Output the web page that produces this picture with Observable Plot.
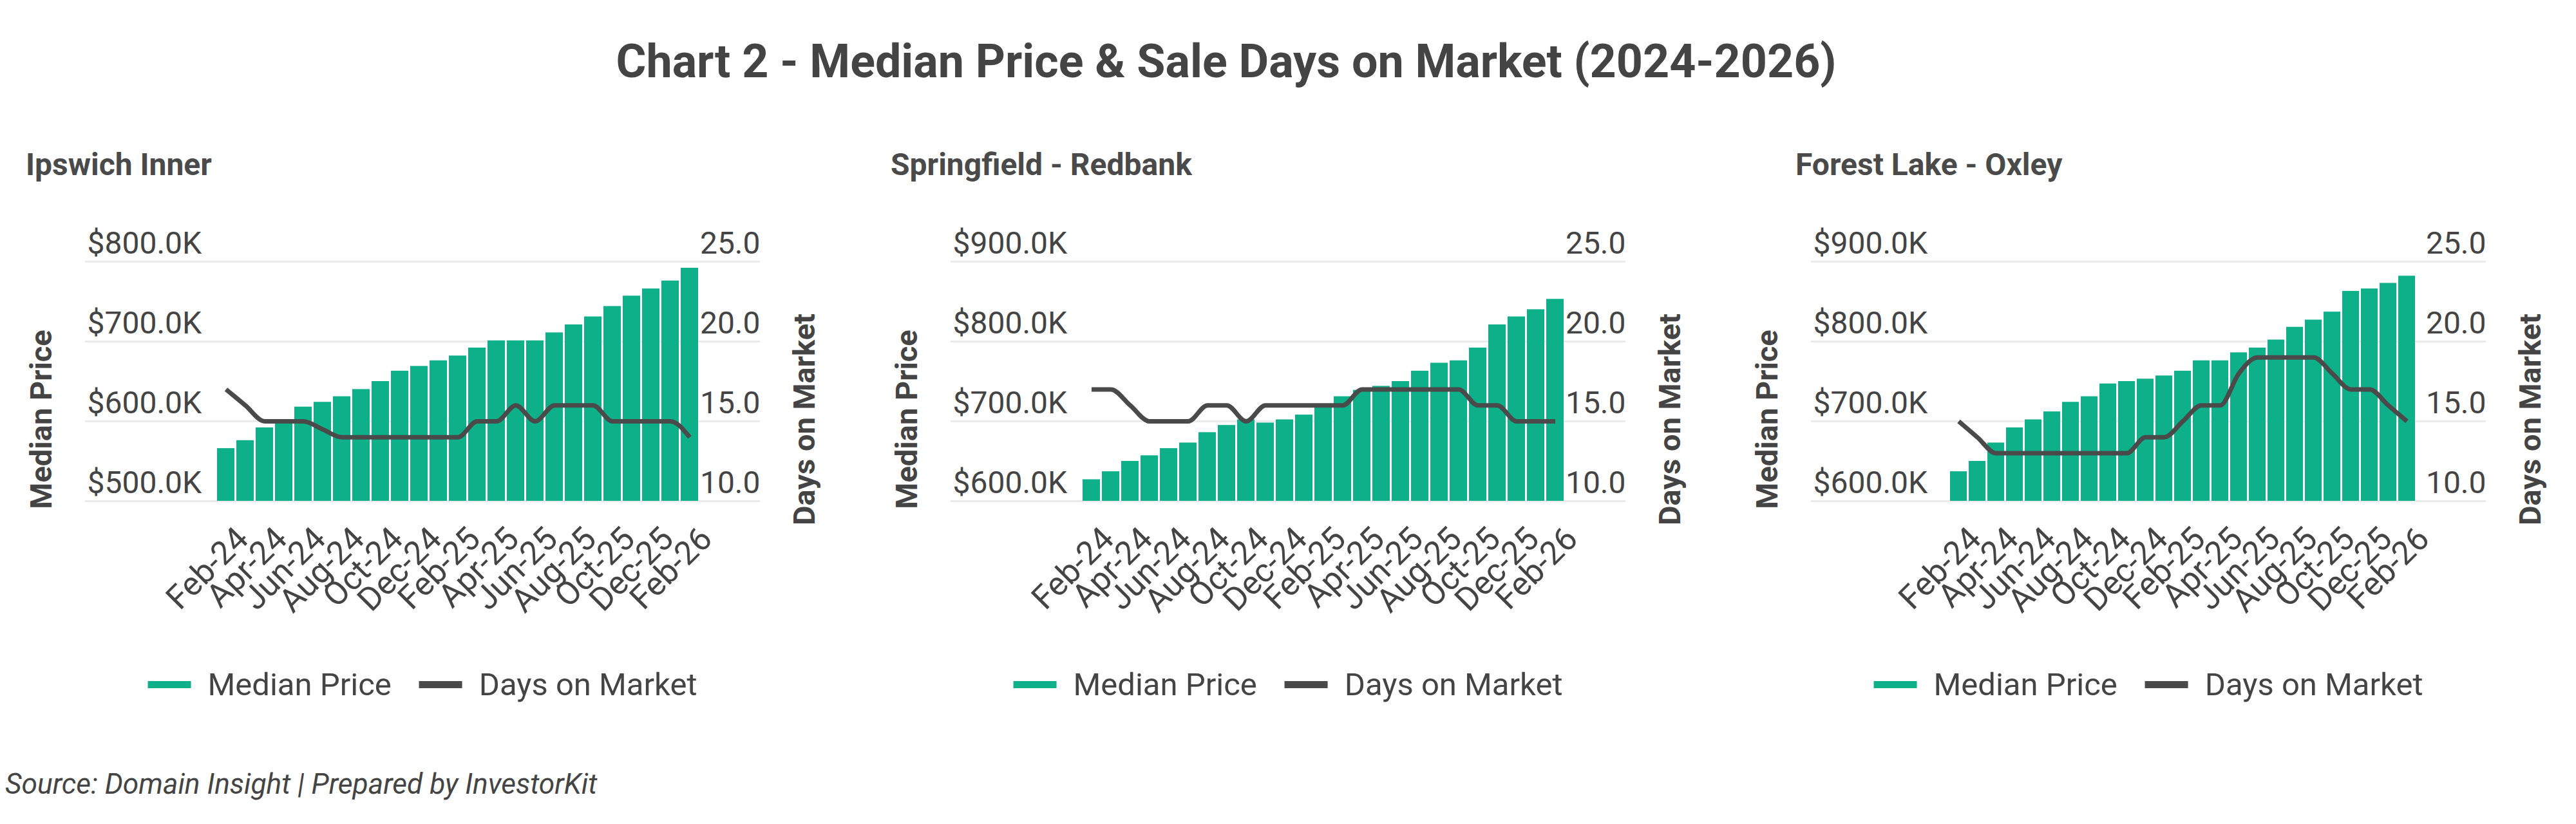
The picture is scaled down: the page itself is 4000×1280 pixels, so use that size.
<!DOCTYPE html>
<html>
<head>
<meta charset="utf-8">
<script src="https://cdn.jsdelivr.net/npm/d3@7"></script>
<script src="https://cdn.jsdelivr.net/npm/@observablehq/plot@0.6"></script>
<style>
  html, body { margin: 0; padding: 0; background: #fff; }
  #root { position: relative; width: 4000px; height: 1280px; overflow: hidden; font-family: Roboto, "Noto Sans", sans-serif; color: #444; }
  .abs { position: absolute; white-space: nowrap; line-height: 1; }
  .title { font-weight: 700; font-size: 73px; transform-origin: center center; }
  .panel-title { font-weight: 700; font-size: 48px; color: #4a4a4a; }
  .legend { display: flex; align-items: center; font-size: 49px; color: #444; transform: translateX(-50%); }
  .legend .sw { width: 67px; height: 11px; margin-right: 26px; }
  .legend .item { display: flex; align-items: center; }
  .legend .item + .item { margin-left: 43px; }
  .source { font-style: italic; font-size: 44.3px; color: #444; }
  svg { position: absolute; font-family: Roboto, "Noto Sans", sans-serif; overflow: visible; }
</style>
</head>
<body>
<div id="root"></div>
<script>
// ---------- data ----------
const months = ["Feb-24","Mar-24","Apr-24","May-24","Jun-24","Jul-24","Aug-24","Sep-24","Oct-24","Nov-24","Dec-24","Jan-25",
                "Feb-25","Mar-25","Apr-25","May-25","Jun-25","Jul-25","Aug-25","Sep-25","Oct-25","Nov-25","Dec-25","Jan-26","Feb-26"];

const panelNames = ["Ipswich Inner", "Springfield - Redbank", "Forest Lake - Oxley"];

// median price in $K
const ipswichPrice = [566,576,592,602,618,624,631,640,650,663,669,676,682,692,701,701,701,711,721,731,744,757,766,776,792];
const springfieldPrice = [627,637,650,657,666,673,686,695,702,698,702,708,718,731,739,744,750,763,773,776,792,821,831,840,853];
const forestPrice = [637,650,673,692,702,712,724,731,747,750,753,757,763,776,776,786,792,802,818,827,837,863,866,873,882];

// days on market
const ipswichDays = [17,16,15,15,15,14.5,14,14,14,14,14,14,14,15,15,16,15,16,16,16,15,15,15,15,14];
const springfieldDays = [17,17,16,15,15,15,16,16,15,16,16,16,16,16,17,17,17,17,17,17,16,16,15,15,15];
const forestDays = [15,14,13,13,13,13,13,13,13,13,14,14,15,16,16,18,19,19,19,19,18,17,17,16,15];

// axis ticks
const ipswichPriceTicks = [500, 600, 700, 800];
const otherPriceTicks = [600, 700, 800, 900];
const daysTicks = [10, 15, 20, 25];
const xTickLabels = ["Feb-24","Apr-24","Jun-24","Aug-24","Oct-24","Dec-24","Feb-25","Apr-25","Jun-25","Aug-25","Oct-25","Dec-25","Feb-26"];

const legendItems = ["Median Price", "Days on Market"];
const titleText = "Chart 2 - Median Price & Sale Days on Market (2024-2026)";
const sourceText = "Source: Domain Insight | Prepared by InvestorKit";

// ---------- styling ----------
const BAR = "#0db088";
const LINE = "#4a4a4a";
const GRID = "#ebebeb";
const TEXT = "#444";

const panels = [
  {name: panelNames[0], price: ipswichPrice, days: ipswichDays, ticks: ipswichPriceTicks, frameLeft: 132, titleLeft: 40, insetRight: 95},
  {name: panelNames[1], price: springfieldPrice, days: springfieldDays, ticks: otherPriceTicks, frameLeft: 1476, titleLeft: 1383, insetRight: 95},
  {name: panelNames[2], price: forestPrice, days: forestDays, ticks: otherPriceTicks, frameLeft: 2812, titleLeft: 2788, insetRight: 97}
];

const root = document.getElementById("root");

// main title
const title = document.createElement("div");
title.className = "abs title";
title.textContent = titleText;
title.style.left = "1904px";
title.style.top = (120 - 0.842 * 73) + "px";
root.appendChild(title);
{
  const w = title.getBoundingClientRect().width;
  const target = 1895;
  const k = Math.min(1, target / w);
  title.style.transform = `translateX(-50%) scaleX(${k})`;
}

const M = {left: 120, right: 120, top: 70, bottom: 210};
const frameW = 1048, frameH = 372;
const frameTop = 406;

panels.forEach(p => {
  const lo = p.ticks[0];
  const hi = p.ticks[p.ticks.length - 1];
  const rows = months.map((m, i) => ({month: m, price: p.price[i], days: p.days[i]}));
  const dayToY = d => lo + (d - 10) * (hi - lo) / 15;

  const chart = Plot.plot({
    width: frameW + M.left + M.right,
    height: frameH + M.top + M.bottom,
    marginLeft: M.left, marginRight: M.right, marginTop: M.top, marginBottom: M.bottom,
    style: {fontFamily: "Roboto, sans-serif", background: "transparent", overflow: "visible"},
    x: {type: "band", domain: months, paddingInner: 0.1, paddingOuter: 0.05, insetLeft: 203, insetRight: p.insetRight, axis: null},
    y: {domain: [lo, hi], axis: null},
    marks: [
      Plot.ruleY(p.ticks, {y: d => d, stroke: GRID, strokeWidth: 3}),
      Plot.barY(rows, {x: "month", y1: lo, y2: "price", fill: BAR}),
      Plot.line(rows, {x: "month", y: d => dayToY(d.days), curve: "monotone-x", stroke: LINE, strokeWidth: 7, strokeLinecap: "butt", strokeLinejoin: "round"}),
      Plot.text(p.ticks, {y: d => d, text: d => `$${d.toFixed(1)}K`, frameAnchor: "left", textAnchor: "start", lineAnchor: "bottom", dx: 3, dy: -13, fontSize: 48, fill: TEXT}),
      Plot.text(daysTicks, {y: d => dayToY(d), text: d => d.toFixed(1), frameAnchor: "right", textAnchor: "end", lineAnchor: "bottom", dy: -13, fontSize: 48, fill: TEXT}),
      Plot.text(xTickLabels, {x: d => d, text: d => d, frameAnchor: "bottom", rotate: -45, textAnchor: "end", lineAnchor: "top", dx: 12, dy: 36, fontSize: 51, fill: TEXT}),
      Plot.text([legendItems[0]], {text: d => d, frameAnchor: "left", rotate: -90, textAnchor: "middle", lineAnchor: "middle", dx: -68, dy: 59, fontSize: 47, fontWeight: 700, fill: TEXT}),
      Plot.text([legendItems[1]], {text: d => d, frameAnchor: "right", rotate: -90, textAnchor: "middle", lineAnchor: "middle", dx: 69, dy: 59, fontSize: 47, fontWeight: 700, fill: TEXT})
    ]
  });
  chart.style.left = (p.frameLeft - M.left) + "px";
  chart.style.top = (frameTop - M.top) + "px";
  root.appendChild(chart);

  // panel title
  const pt = document.createElement("div");
  pt.className = "abs panel-title";
  pt.textContent = p.name;
  pt.style.left = p.titleLeft + "px";
  pt.style.top = (272 - 0.842 * 48) + "px";
  root.appendChild(pt);

  // legend
  const lg = document.createElement("div");
  lg.className = "abs legend";
  lg.style.left = (p.frameLeft + frameW / 2) + "px";
  lg.style.top = (1080 - 0.842 * 49) + "px";
  [[legendItems[0], BAR], [legendItems[1], LINE]].forEach(([label, color]) => {
    const it = document.createElement("div");
    it.className = "item";
    const sw = document.createElement("div");
    sw.className = "sw";
    sw.style.background = color;
    const tx = document.createElement("span");
    tx.textContent = label;
    it.appendChild(sw);
    it.appendChild(tx);
    lg.appendChild(it);
  });
  root.appendChild(lg);
});

// source
const src = document.createElement("div");
src.className = "abs source";
src.textContent = sourceText;
src.style.left = "8px";
src.style.top = (1233 - 0.842 * 44.3) + "px";
root.appendChild(src);
</script>
</body>
</html>
